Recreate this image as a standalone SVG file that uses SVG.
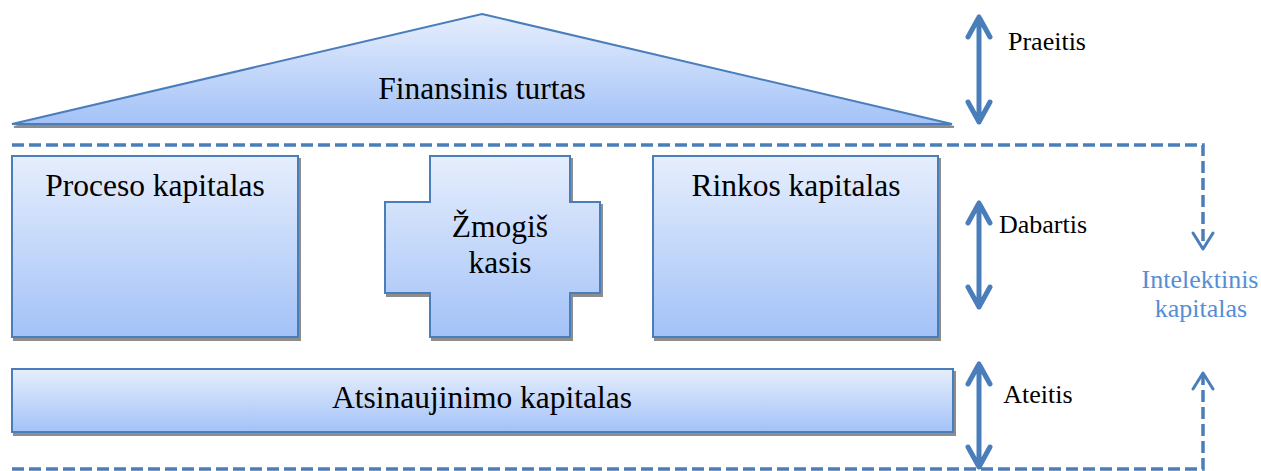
<svg xmlns="http://www.w3.org/2000/svg" width="1261" height="471" viewBox="0 0 1261 471">
<defs>
<linearGradient id="g" x1="0" y1="0" x2="0" y2="1">
<stop offset="0" stop-color="#E6EEFD"/>
<stop offset="1" stop-color="#A3C2F7"/>
</linearGradient>
<filter id="sh" x="-5%" y="-5%" width="110%" height="115%">
<feOffset in="SourceAlpha" dx="2" dy="3" result="o"/>
<feComponentTransfer in="o" result="s"><feFuncA type="linear" slope="0.45"/></feComponentTransfer>
<feMerge><feMergeNode in="s"/><feMergeNode in="SourceGraphic"/></feMerge>
</filter>
</defs>
<style>
.n{fill:url(#g);stroke:#4A7EBB;stroke-width:2;filter:url(#sh)}
.t{font-family:'Liberation Serif',serif;fill:#000;text-anchor:middle}
.big{font-size:31.5px}
.sm{font-size:26px}
.ar{fill:none;stroke:#4A7EBB;stroke-width:5;stroke-linecap:round;stroke-linejoin:round}
.ds{fill:none;stroke:#4A7EBB;stroke-width:3.5;stroke-dasharray:12 5}
.dh{fill:none;stroke:#4A7EBB;stroke-width:3;stroke-linecap:round;stroke-linejoin:round}
.blue{fill:#558ED5}
</style>
<g id="finansinis">
<polygon class="n" points="482,14 952,124 12,124"/>
<text class="t big" font-family="Liberation Serif" x="482" y="99">Finansinis turtas</text>
</g>
<g id="proceso">
<rect class="n" x="12" y="156" width="286" height="181"/>
<text class="t big" font-family="Liberation Serif" x="155" y="196">Proceso kapitalas</text>
</g>
<g id="zmogiskasis">
<polygon class="n" points="430,156 570,156 570,202 600,202 600,293 570,293 570,337 430,337 430,293 385,293 385,202 430,202"/>
<text class="t big" font-family="Liberation Serif" x="500" y="237">Žmogiš</text>
<text class="t big" font-family="Liberation Serif" x="500" y="273">kasis</text>
</g>
<g id="rinkos">
<rect class="n" x="653" y="156" width="285" height="181"/>
<text class="t big" font-family="Liberation Serif" x="796" y="196">Rinkos kapitalas</text>
</g>
<g id="atsinaujinimo">
<rect class="n" x="12" y="369" width="941" height="63"/>
<text class="t big" font-family="Liberation Serif" x="482" y="408">Atsinaujinimo kapitalas</text>
</g>
<g id="connectors">
<path class="ar" d="M979,17 V122 M968,37 L979,17 L990,37 M968,102 L979,122 L990,102"/>
<path class="ar" d="M979,203 V307 M968,223 L979,203 L990,223 M968,287 L979,307 L990,287"/>
<path class="ar" d="M979,364 V467 M968,384 L979,364 L990,384 M968,447 L979,467 L990,447"/>
<path class="ds" d="M12,145 H1203 V248"/>
<path class="dh" d="M1193,233 L1203,249 L1213,233"/>
<path class="ds" d="M12,469 H1203 V374"/>
<path class="dh" d="M1193,389 L1203,373 L1213,389"/>
</g>
<g id="labels">
<text class="t sm" font-family="Liberation Serif" x="1047" y="50">Praeitis</text>
<text class="t sm" font-family="Liberation Serif" x="1043" y="233">Dabartis</text>
<text class="t sm" font-family="Liberation Serif" x="1038" y="403">Ateitis</text>
<text class="t sm blue" font-family="Liberation Serif" x="1200" y="288">Intelektinis</text>
<text class="t sm blue" font-family="Liberation Serif" x="1201" y="317">kapitalas</text>
</g>
</svg>
